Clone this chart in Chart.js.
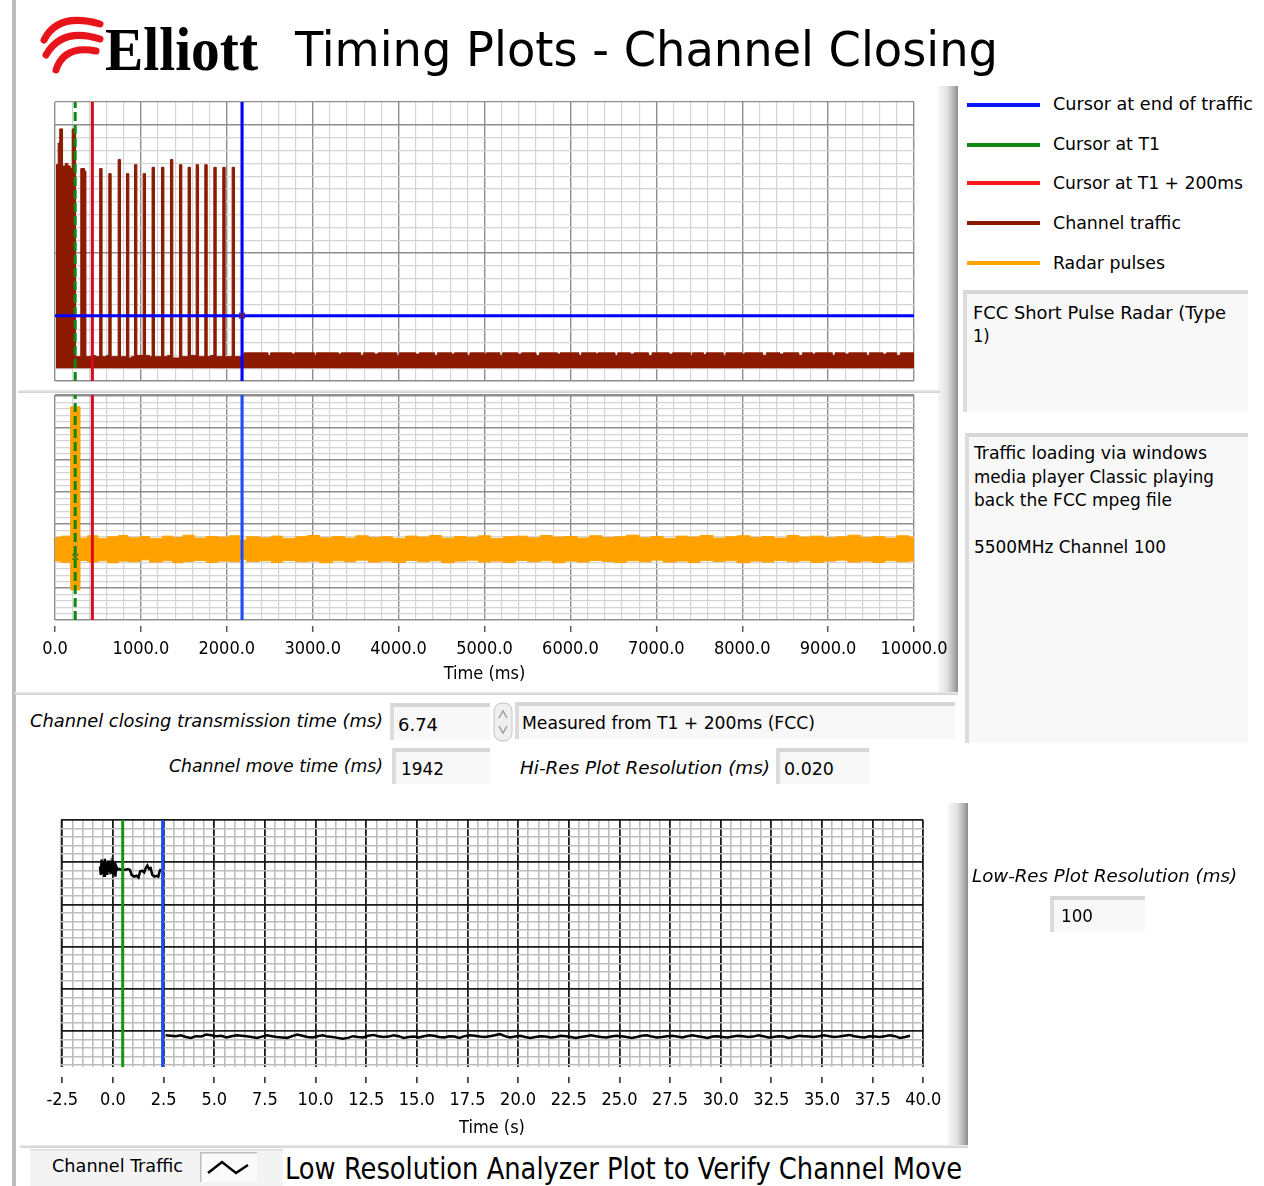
<!DOCTYPE html>
<html>
<head>
<meta charset="utf-8">
<title>Timing Plots - Channel Closing</title>
<script src="https://cdn.jsdelivr.net/npm/chart.js"></script>
<style>
    body { margin: 0; background: #fff; font-family: "DejaVu Sans Condensed", "DejaVu Sans", sans-serif; color: #000; }
    #page { position: relative; width: 1264px; height: 1186px; overflow: hidden; background: #fff; }
    .abs { position: absolute; white-space: nowrap; line-height: 1; transform-origin: left center; }
    .it { font-style: italic; }
    canvas { position: absolute; }
    .box { position: absolute; box-sizing: border-box; background: #f8f8f8;
           border-style: solid; border-width: 4px 0 0 4px; border-color: #d6d6d6 #f8f8f8 #f8f8f8 #dcdcdc; }
    .vbar { position: absolute; background: linear-gradient(to right, #f6f6f6, #e2e2e2 45%, #a8a8a8 85%, #8a8a8a); }
    .hline { position: absolute; height: 3px; background: linear-gradient(#ececec, #cfcfcf); }
    .leg { position: absolute; left: 967px; width: 73px; height: 4px; }
</style>
</head>
<body>
<div id="page">
    <div style="position:absolute;left:12px;top:0;width:4px;height:1186px;background:#bdbdbd"></div>

    <!-- header -->
    <svg class="abs" style="left:0;top:0" width="110" height="80">
        <g fill="none" stroke="#e8141c" stroke-width="7" stroke-linecap="round">
            <path d="M44 40 Q58 12 100 24"/>
            <path d="M46 55 Q62 27 100 39"/>
            <path d="M56 70 Q64 45 96 51"/>
        </g>
    </svg>
    <span class="abs fit" data-w="153" style="left:105px;top:14px;font:bold 62px 'Liberation Serif',serif;">Elliott</span>
    <span class="abs fit" data-w="703" style="left:295px;top:25px;font-size:48px;">Timing Plots - Channel Closing</span>

    <!-- panel decorations -->
    <div class="vbar" style="left:938px;top:86px;width:20px;height:608px"></div>
    <div class="hline" style="left:18px;top:390px;width:922px"></div>
    <div class="hline" style="left:15px;top:692px;width:943px"></div>
    <div class="vbar" style="left:948px;top:803px;width:20px;height:345px"></div>
    <div class="hline" style="left:20px;top:1145px;width:948px"></div>

    <canvas id="trafficChart" width="960" height="298" style="left:0;top:92px"></canvas>
    <canvas id="radarChart" width="960" height="300" style="left:0;top:385px"></canvas>
    <canvas id="lowResChart" width="975" height="335" style="left:0;top:805px"></canvas>

    <!-- legend -->
    <div class="leg" style="top:103px;background:#0a14ff"></div>
    <div class="leg" style="top:143px;background:#118811"></div>
    <div class="leg" style="top:181px;background:#ff1a1a"></div>
    <div class="leg" style="top:221px;background:#8b1a00"></div>
    <div class="leg" style="top:261px;background:#ffa500"></div>
    <span class="abs fit" data-w="200" style="left:1053px;top:95px;font-size:18px">Cursor at end of traffic</span>
    <span class="abs fit" data-w="107" style="left:1053px;top:135px;font-size:18px">Cursor at T1</span>
    <span class="abs fit" data-w="190" style="left:1053px;top:174px;font-size:18px">Cursor at T1 + 200ms</span>
    <span class="abs fit" data-w="128" style="left:1053px;top:214px;font-size:18px">Channel traffic</span>
    <span class="abs fit" data-w="112" style="left:1053px;top:254px;font-size:18px">Radar pulses</span>

    <!-- notes -->
    <div class="box" style="left:963px;top:290px;width:285px;height:122px"></div>
    <span class="abs fit" data-w="253" style="left:973px;top:304px;font-size:18px">FCC Short Pulse Radar (Type</span>
    <span class="abs" style="left:973px;top:327px;font-size:18px">1)</span>
    <div class="box" style="left:965px;top:433px;width:283px;height:310px"></div>
    <span class="abs fit" data-w="233" style="left:974px;top:444px;font-size:18px">Traffic loading via windows</span>
    <span class="abs fit" data-w="240" style="left:974px;top:468px;font-size:18px">media player Classic playing</span>
    <span class="abs fit" data-w="198" style="left:974px;top:491px;font-size:18px">back the FCC mpeg file</span>
    <span class="abs fit" data-w="192" style="left:974px;top:538px;font-size:18px">5500MHz Channel 100</span>

    <!-- indicators -->
    <span class="abs it fit" data-w="353" style="left:30px;top:712px;font-size:18px">Channel closing transmission time (ms)</span>
    <div class="box" style="left:390px;top:703px;width:100px;height:37px"></div>
    <span class="abs fit" data-w="40" style="left:398px;top:716px;font-size:18px">6.74</span>
    <svg class="abs" style="left:493px;top:702px" width="22" height="40">
        <rect x="1" y="1" width="18" height="38" rx="8" fill="#efefef" stroke="#c4c4c4"/>
        <path d="M6 16 L10 9 L14 16 M6 24 L10 31 L14 24" fill="none" stroke="#9a9a9a" stroke-width="1.4"/>
    </svg>
    <div class="box" style="left:515px;top:702px;width:440px;height:37px"></div>
    <span class="abs fit" data-w="293" style="left:522px;top:714px;font-size:18px">Measured from T1 + 200ms (FCC)</span>
    <span class="abs it fit" data-w="214" style="left:169px;top:757px;font-size:18px">Channel move time (ms)</span>
    <div class="box" style="left:392px;top:748px;width:98px;height:36px"></div>
    <span class="abs fit" data-w="43" style="left:401px;top:760px;font-size:18px">1942</span>
    <span class="abs it fit" data-w="250" style="left:520px;top:759px;font-size:18px">Hi-Res Plot Resolution (ms)</span>
    <div class="box" style="left:776px;top:748px;width:93px;height:36px"></div>
    <span class="abs fit" data-w="50" style="left:784px;top:760px;font-size:18px">0.020</span>
    <span class="abs it fit" data-w="265" style="left:972px;top:867px;font-size:18px">Low-Res Plot Resolution (ms)</span>
    <div class="box" style="left:1050px;top:896px;width:95px;height:36px"></div>
    <span class="abs fit" data-w="32" style="left:1061px;top:907px;font-size:18px">100</span>

    <!-- low-res footer -->
    <div style="position:absolute;left:30px;top:1149px;width:253px;height:37px;background:#f3f3f3;border-top:2px solid #e2e2e2"></div>
    <span class="abs fit" data-w="131" style="left:52px;top:1158px;font-size:17px">Channel Traffic</span>
    <svg class="abs" style="left:200px;top:1152px" width="57" height="30">
        <rect x="0" y="0" width="57" height="30" fill="#fafafa"/>
        <path d="M0 0 H57 M0 0 V30" stroke="#bdbdbd" stroke-width="3"/>
        <path d="M8 21 L22 10 L36 21 L48 13" fill="none" stroke="#000" stroke-width="2.5"/>
    </svg>
    <span class="abs fit" data-w="677" style="left:285px;top:1154px;font-size:30px">Low Resolution Analyzer Plot to Verify Channel Move</span>
</div>

<script>
    const FONT = "'DejaVu Sans Condensed', 'DejaVu Sans', sans-serif";

    // hi-res plots, time in ms
    const hiResTicks = [0, 1000, 2000, 3000, 4000, 5000, 6000, 7000, 8000, 9000, 10000];
    const hiResTickLabels = ['0.0', '1000.0', '2000.0', '3000.0', '4000.0', '5000.0', '6000.0', '7000.0', '8000.0', '9000.0', '10000.0'];
    const cursorT1 = 235;
    const cursorT1plus200 = 435;
    const cursorEndTraffic = 2177;
    const cursorLevel = 0.51;
    const radarMarkLevel = 1.97;

    // channel traffic: top edge of the trace [time, level], floor of the trace
    const trafficFloor = 0.10;
    const trafficEdge = [
        [10, 1.69], [37, 1.86], [55, 1.97], [88, 1.68], [120, 1.70], [150, 1.68], [178, 1.66], [200, 1.97], [240, 0.19],
        [300, 1.66], [345, 1.64], [360, 0.19], [420, 0.20], [470, 0.19],
        [520, 1.66], [548, 0.19], [600, 0.20],
        [626, 1.62], [654, 0.19],
        [735, 1.73], [763, 0.19],
        [832, 1.62], [860, 0.18], [890, 0.19],
        [925, 1.69], [953, 0.20],
        [1026, 1.62], [1054, 0.20], [1100, 0.19],
        [1130, 1.67], [1158, 0.19],
        [1240, 1.67], [1268, 0.19], [1310, 0.20],
        [1344, 1.73], [1372, 0.18],
        [1449, 1.69], [1477, 0.19],
        [1549, 1.67], [1577, 0.20],
        [1643, 1.69], [1671, 0.19],
        [1744, 1.69], [1772, 0.19], [1810, 0.20],
        [1849, 1.67], [1877, 0.19],
        [1953, 1.67], [1981, 0.19],
        [2062, 1.67], [2090, 0.19],
        [2177, 0.21], [2200, 0.22], [2480, 0.20], [2510, 0.22], [2760, 0.21], [2790, 0.22], [3020, 0.20], [3040, 0.22],
        [3300, 0.21], [3330, 0.22], [3560, 0.20], [3590, 0.22], [3720, 0.21], [3760, 0.22], [3980, 0.20], [4010, 0.22],
        [4200, 0.21], [4240, 0.22], [4420, 0.20], [4450, 0.22], [4620, 0.21], [4650, 0.22], [4800, 0.20], [4830, 0.22],
        [5000, 0.21], [5020, 0.22], [5180, 0.20], [5210, 0.22], [5390, 0.21], [5430, 0.22], [5600, 0.20], [5640, 0.22],
        [5850, 0.21], [5880, 0.22], [6100, 0.20], [6130, 0.22], [6300, 0.21], [6320, 0.22], [6520, 0.20], [6550, 0.22],
        [6700, 0.21], [6740, 0.22], [6910, 0.20], [6950, 0.22], [7150, 0.21], [7190, 0.22], [7400, 0.20], [7420, 0.22],
        [7550, 0.205], [7580, 0.22], [7780, 0.20], [7810, 0.22], [8000, 0.21], [8030, 0.22], [8240, 0.20], [8280, 0.22],
        [8440, 0.21], [8480, 0.22], [8660, 0.20], [8700, 0.22], [8820, 0.21], [8850, 0.22], [9050, 0.20], [9080, 0.22],
        [9200, 0.21], [9240, 0.22], [9450, 0.20], [9480, 0.22], [9640, 0.21], [9680, 0.22], [9800, 0.20], [9840, 0.22],
        [10000, 0.22]
    ];

    // radar pulses: [time, upper edge, lower edge]
    const radarBand = [
        [0, 2.58, 1.84], [70, 2.62, 1.80], [183, 6.66, 0.94], [291, 2.56, 1.86], [380, 2.63, 1.81], [500, 2.55, 1.85],
        [610, 2.60, 1.79], [740, 2.64, 1.84], [850, 2.57, 1.82], [990, 2.61, 1.88], [1100, 2.55, 1.81], [1250, 2.62, 1.85],
        [1370, 2.58, 1.79], [1490, 2.65, 1.83], [1620, 2.56, 1.86], [1760, 2.61, 1.80], [1890, 2.59, 1.84], [2030, 2.63, 1.82],
        [2150, 2.50, 1.90], [2230, 2.60, 1.83], [2380, 2.57, 1.85], [2520, 2.62, 1.80], [2650, 2.55, 1.86], [2800, 2.60, 1.82],
        [2940, 2.64, 1.84], [3080, 2.57, 1.79], [3230, 2.61, 1.85], [3370, 2.56, 1.82], [3500, 2.63, 1.87], [3650, 2.58, 1.81],
        [3790, 2.60, 1.84], [3930, 2.55, 1.80], [4080, 2.62, 1.86], [4220, 2.59, 1.82], [4360, 2.64, 1.85], [4500, 2.56, 1.79],
        [4650, 2.61, 1.84], [4790, 2.58, 1.87], [4930, 2.63, 1.81], [5070, 2.55, 1.84], [5220, 2.60, 1.80], [5360, 2.62, 1.86],
        [5500, 2.57, 1.82], [5650, 2.64, 1.85], [5790, 2.59, 1.79], [5930, 2.61, 1.84], [6080, 2.56, 1.81], [6220, 2.63, 1.86],
        [6370, 2.58, 1.83], [6510, 2.60, 1.80], [6650, 2.65, 1.85], [6800, 2.57, 1.82], [6940, 2.61, 1.87], [7080, 2.55, 1.81],
        [7230, 2.62, 1.84], [7370, 2.59, 1.80], [7510, 2.64, 1.86], [7660, 2.56, 1.83], [7800, 2.60, 1.85], [7940, 2.63, 1.79],
        [8090, 2.58, 1.84], [8230, 2.61, 1.81], [8370, 2.56, 1.86], [8520, 2.64, 1.82], [8660, 2.59, 1.85], [8800, 2.62, 1.80],
        [8950, 2.57, 1.84], [9090, 2.60, 1.87], [9230, 2.65, 1.81], [9380, 2.58, 1.84], [9520, 2.61, 1.80], [9660, 2.56, 1.85],
        [9800, 2.63, 1.82], [9940, 2.59, 1.84], [10000, 2.59, 1.84]
    ];

    // low-res plot, time in s
    const lowResTicks = [-2.5, 0, 2.5, 5, 7.5, 10, 12.5, 15, 17.5, 20, 22.5, 25, 27.5, 30, 32.5, 35, 37.5, 40];
    const lowResTickLabels = ['-2.5', '0.0', '2.5', '5.0', '7.5', '10.0', '12.5', '15.0', '17.5', '20.0', '22.5', '25.0', '27.5', '30.0', '32.5', '35.0', '37.5', '40.0'];
    const lowResT1 = 0.48;
    const lowResEnd = 2.45;
    const lowResBefore = [
        [-0.64, 4.90], [-0.60, 4.70], [-0.56, 5.06], [-0.52, 4.72], [-0.48, 5.02], [-0.44, 4.68], [-0.40, 5.08], [-0.36, 4.74],
        [-0.32, 4.98], [-0.28, 4.70], [-0.24, 5.04], [-0.20, 4.78], [-0.16, 4.96], [-0.12, 4.72], [-0.08, 4.92], [-0.04, 4.80],
        [0.00, 5.04], [0.04, 4.70], [0.08, 4.98], [0.12, 4.66], [0.16, 4.90], [0.22, 4.82], [0.30, 4.84], [0.40, 4.82],
        [0.50, 4.83], [0.62, 4.82], [0.74, 4.84], [0.84, 4.82], [0.92, 4.70], [1.04, 4.66], [1.16, 4.68], [1.26, 4.64],
        [1.34, 4.78], [1.44, 4.80], [1.54, 4.76], [1.62, 4.86], [1.70, 4.92], [1.78, 4.84], [1.86, 4.86], [1.94, 4.70],
        [2.04, 4.66], [2.14, 4.68], [2.24, 4.66], [2.30, 4.78], [2.36, 4.84]
    ];
    const lowResAfterStart = 2.6;
    const lowResAfterStep = 0.25;
    const lowResAfter = [
        0.90, 0.89, 0.88, 0.90, 0.86, 0.84, 0.88, 0.87, 0.92, 0.90,
        0.88, 0.89, 0.85, 0.88, 0.90, 0.89, 0.88, 0.86, 0.84, 0.87,
        0.90, 0.88, 0.86, 0.85, 0.84, 0.88, 0.92, 0.89, 0.86, 0.85,
        0.88, 0.90, 0.87, 0.86, 0.84, 0.82, 0.84, 0.88, 0.86, 0.85,
        0.89, 0.91, 0.88, 0.86, 0.87, 0.90, 0.88, 0.84, 0.86, 0.87,
        0.85, 0.88, 0.90, 0.89, 0.86, 0.85, 0.88, 0.87, 0.84, 0.88,
        0.90, 0.89, 0.87, 0.86, 0.88, 0.90, 0.93, 0.88, 0.85, 0.87,
        0.89, 0.86, 0.84, 0.86, 0.88, 0.87, 0.85, 0.86, 0.89, 0.88,
        0.86, 0.84, 0.86, 0.88, 0.90, 0.88, 0.86, 0.85, 0.87, 0.89,
        0.88, 0.86, 0.84, 0.86, 0.89, 0.90, 0.87, 0.85, 0.86, 0.88,
        0.89, 0.87, 0.85, 0.88, 0.90, 0.88, 0.86, 0.84, 0.87, 0.88,
        0.86, 0.85, 0.87, 0.89, 0.88, 0.86, 0.87, 0.90, 0.88, 0.85,
        0.86, 0.88, 0.87, 0.84, 0.86, 0.89, 0.88, 0.87, 0.86, 0.88,
        0.90, 0.88, 0.86, 0.87, 0.89, 0.91, 0.88, 0.86, 0.85, 0.88,
        0.87, 0.86, 0.88, 0.90, 0.88, 0.84, 0.86, 0.89
    ];

    // squeeze the labels to the widths they have on the panel
    document.querySelectorAll('.fit').forEach(el => {
        const w = el.getBoundingClientRect().width;
        el.style.transform = 'scaleX(' + (+el.dataset.w / w) + ')';
    });

    function stepTicks(from, to, step) {
        const out = [];
        const n = Math.round((to - from) / step);
        for (let i = 0; i <= n; i++) out.push({ value: +(from + i * step).toFixed(4) });
        return out;
    }

    function vLine(x, y0, y1) {
        return [{ x: x, y: y0 }, { x: x, y: y1 }];
    }

    function baseOptions(padding) {
        return {
            responsive: false,
            animation: false,
            events: [],
            layout: { padding: padding },
            plugins: { legend: { display: false }, tooltip: { enabled: false } },
            elements: { point: { radius: 0 } }
        };
    }

    const isHiMajor = v => hiResTicks.includes(v);
    const lightMajor = '#8e8e8e';
    const lightMinor = '#d4d4d4';

    function hiResX(withLabels) {
        return {
            type: 'linear', min: 0, max: 10000,
            afterBuildTicks: s => { s.ticks = stepTicks(0, 10000, 200); },
            afterFit: s => { s.height = withLabels ? 65 : 0; },
            border: { display: false },
            grid: {
                color: c => isHiMajor(c.tick.value) ? lightMajor : lightMinor,
                lineWidth: c => isHiMajor(c.tick.value) ? 1.4 : 1.2,
                drawTicks: withLabels,
                tickLength: 12,
                tickColor: c => isHiMajor(c.tick.value) ? '#555' : 'rgba(0,0,0,0)',
                tickBorderDash: [0, 6, 6, 40],
                tickWidth: 1.5
            },
            ticks: {
                display: withLabels, autoSkip: false, maxRotation: 0, padding: 7,
                color: '#000', font: { family: FONT, size: 18 },
                callback: v => { const i = hiResTicks.indexOf(v); return i < 0 ? '' : hiResTickLabels[i]; }
            },
            title: {
                display: withLabels, text: 'Time (ms)', color: '#000',
                font: { family: FONT, size: 18 }, padding: { top: 0, bottom: 0 }
            }
        };
    }

    function hiResY(max, step) {
        return {
            min: 0, max: max,
            afterBuildTicks: s => { s.ticks = stepTicks(0, Math.floor(max), step).concat([{ value: max }]); },
            afterFit: s => { s.width = 0; },
            border: { display: false },
            grid: {
                color: c => (Number.isInteger(c.tick.value) || c.tick.value === max) ? lightMajor : lightMinor,
                lineWidth: c => Number.isInteger(c.tick.value) ? 1.4 : 1.2,
                drawTicks: false
            },
            ticks: { display: false }
        };
    }

    // channel traffic plot
    const trafficOpts = baseOptions({ left: 55, right: 46, top: 10, bottom: 9 });
    trafficOpts.scales = { x: hiResX(false), y: hiResY(2.18, 0.1) };
    new Chart(document.getElementById('trafficChart'), {
        type: 'line',
        data: {
            datasets: [
                { data: [{ x: cursorEndTraffic, y: cursorLevel }], showLine: false, pointRadius: 4, pointStyle: 'crossRot',
                  pointBorderColor: '#6a1a50', pointBorderWidth: 1.5 },
                { data: [{ x: 0, y: cursorLevel }, { x: 10000, y: cursorLevel }], borderColor: '#0000ff', borderWidth: 3 },
                { data: vLine(cursorEndTraffic, 0, 2.18), borderColor: '#0000ff', borderWidth: 3 },
                { data: vLine(cursorT1, 0, 2.18), borderColor: '#0b8a12', borderWidth: 3, borderDash: [9, 4] },
                { data: vLine(cursorT1plus200, 0, 2.18), borderColor: '#d80a20', borderWidth: 3 },
                { data: trafficEdge.map(p => ({ x: p[0], y: p[1] })), stepped: true, borderColor: '#8b1a00', borderWidth: 1,
                  backgroundColor: '#8b1a00', fill: { value: trafficFloor } }
            ]
        },
        options: trafficOpts
    });

    // radar pulse plot
    const radarOpts = baseOptions({ left: 55, right: 46, top: 10, bottom: 0 });
    radarOpts.scales = { x: hiResX(true), y: hiResY(7.03, 0.2) };
    new Chart(document.getElementById('radarChart'), {
        type: 'line',
        data: {
            datasets: [
                { data: [{ x: cursorT1, y: radarMarkLevel }], showLine: false, pointRadius: 4, pointStyle: 'crossRot',
                  pointBorderColor: '#3f7a1a', pointBorderWidth: 1.5 },
                { data: vLine(cursorT1, 0, 7.03), borderColor: '#0b8a12', borderWidth: 3, borderDash: [9, 4] },
                { data: vLine(cursorT1plus200, 0, 7.03), borderColor: '#d80a20', borderWidth: 3 },
                { data: vLine(cursorEndTraffic, 0, 7.03), borderColor: '#1a4cff', borderWidth: 3 },
                { data: radarBand.map(p => ({ x: p[0], y: p[1] })), stepped: true, borderColor: '#ffa200', borderWidth: 1,
                  backgroundColor: '#ffa200', fill: '+1' },
                { data: radarBand.map(p => ({ x: p[0], y: p[2] })), stepped: true, borderColor: '#ffa200', borderWidth: 1 }
            ]
        },
        options: radarOpts
    });

    // low resolution analyzer plot
    const isLowMajor = v => lowResTicks.includes(v);
    const lowOpts = baseOptions({ left: 60.7, right: 51.7, top: 15, bottom: 0 });
    lowOpts.scales = {
        x: {
            type: 'linear', min: -2.58, max: 40,
            afterBuildTicks: s => { s.ticks = [{ value: -2.58 }].concat(stepTicks(-2.5, 40, 0.5)); },
            afterFit: s => { s.height = 73; },
            border: { display: false },
            grid: {
                color: c => isLowMajor(c.tick.value) ? '#1a1a1a' : '#bdbdbd',
                lineWidth: c => isLowMajor(c.tick.value) ? 1.8 : 1.6,
                tickLength: 16,
                tickColor: c => isLowMajor(c.tick.value) ? '#222' : 'rgba(0,0,0,0)',
                tickBorderDash: [0, 10, 6, 40],
                tickWidth: 1.5
            },
            ticks: {
                autoSkip: false, maxRotation: 0, padding: 7,
                color: '#000', font: { family: FONT, size: 18 },
                callback: v => { const i = lowResTicks.indexOf(v); return i < 0 ? '' : lowResTickLabels[i]; }
            },
            title: {
                display: true, text: 'Time (s)', color: '#000',
                font: { family: FONT, size: 18 }, padding: { top: 0, bottom: 1 }
            }
        },
        y: {
            min: 0.15, max: 6,
            afterBuildTicks: s => { s.ticks = stepTicks(0.2, 6, 0.2); },
            afterFit: s => { s.width = 0; },
            border: { display: false },
            grid: {
                color: c => Number.isInteger(c.tick.value) ? '#1a1a1a' : '#bdbdbd',
                lineWidth: c => Number.isInteger(c.tick.value) ? 1.8 : 1.6,
                drawTicks: false
            },
            ticks: { display: false }
        }
    };
    new Chart(document.getElementById('lowResChart'), {
        type: 'line',
        data: {
            datasets: [
                { data: vLine(lowResT1, 0.15, 6), borderColor: '#119911', borderWidth: 3 },
                { data: vLine(lowResEnd, 0.15, 6), borderColor: '#1d4ef5', borderWidth: 3 },
                { data: lowResBefore.map(p => ({ x: p[0], y: p[1] })), borderColor: '#000', borderWidth: 2.5 },
                { data: lowResAfter.map((v, i) => ({ x: lowResAfterStart + i * lowResAfterStep, y: v })), borderColor: '#000', borderWidth: 2.5 }
            ]
        },
        options: lowOpts
    });
</script>
</body>
</html>
